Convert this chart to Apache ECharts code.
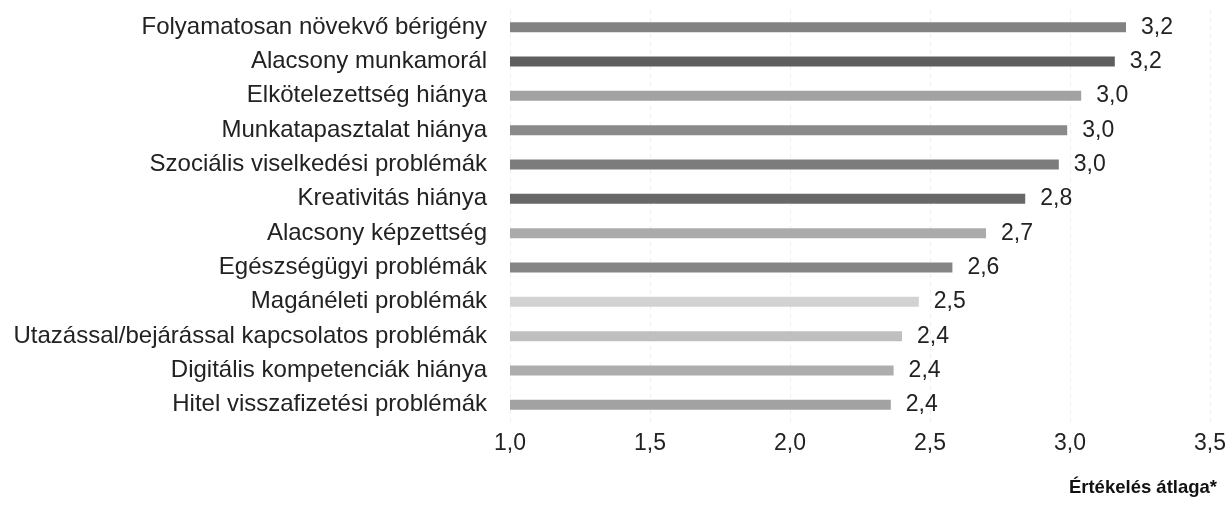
<!DOCTYPE html>
<html><head><meta charset="utf-8">
<script src="https://cdn.jsdelivr.net/npm/echarts@6/dist/echarts.min.js"></script>
<style>html,body{margin:0;padding:0;background:#fff}#c{width:1229px;height:519px}</style>
</head><body><div id="c"></div>
<script>
const categories = [
  "Folyamatosan növekvő bérigény",
  "Alacsony munkamorál",
  "Elkötelezettség hiánya",
  "Munkatapasztalat hiánya",
  "Szociális viselkedési problémák",
  "Kreativitás hiánya",
  "Alacsony képzettség",
  "Egészségügyi problémák",
  "Magánéleti problémák",
  "Utazással/bejárással kapcsolatos problémák",
  "Digitális kompetenciák hiánya",
  "Hitel visszafizetési problémák"
];
const values = [3.20, 3.16, 3.04, 2.99, 2.96, 2.84, 2.70, 2.58, 2.46, 2.40, 2.37, 2.36];
const valueLabels = ["3,2","3,2","3,0","3,0","3,0","2,8","2,7","2,6","2,5","2,4","2,4","2,4"];
const barColors = ["#828282","#5e5e5e","#a2a2a2","#8a8a8a","#7c7c7c","#686868","#ababab","#858585","#d2d2d2","#bfbfbf","#adadad","#a2a2a2"];
const axisName = "Értékelés átlaga*";

const chart = echarts.init(document.getElementById('c'), null, {renderer:'canvas'});
const font = "'Liberation Sans', Arial, sans-serif";
chart.setOption({
  animation: false,
  backgroundColor: '#fff',
  grid: { left: 510, right: 17, top: 10, bottom: 97, containLabel: false },
  xAxis: {
    type: 'value', min: 1, max: 3.5, interval: 0.5,
    axisLine: { show: false }, axisTick: { show: false },
    splitLine: { show: true, lineStyle: { color: '#efefef', type: [4, 4], width: 1 } },
    axisLabel: { color: '#222', fontFamily: font, fontSize: 23, margin: 10,
      formatter: v => v.toFixed(1).replace('.', ',') },
    name: axisName, nameLocation: 'end',
    nameTextStyle: { fontFamily: font, fontSize: 18.5, fontWeight: 'bold', color: '#111',
      align: 'right', verticalAlign: 'top', padding: [56, 0, 0, 0] },
    nameGap: 7
  },
  yAxis: {
    type: 'category', data: categories, inverse: true,
    axisLine: { show: false }, axisTick: { show: false }, splitLine: { show: false },
    axisLabel: { color: '#222', fontFamily: font, fontSize: 24, margin: 23 }
  },
  series: [{
    type: 'bar',
    data: values.map((v, i) => ({ value: v, itemStyle: { color: barColors[i] } })),
    barWidth: 10,
    label: { show: true, position: 'right', distance: 15, color: '#222', fontFamily: font, fontSize: 23,
      formatter: p => valueLabels[p.dataIndex] }
  }]
});
</script></body></html>
